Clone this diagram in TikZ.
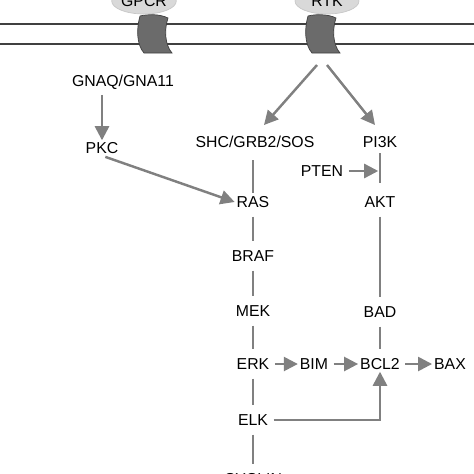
\documentclass[tikz,border=0pt]{standalone}
\usepackage{fontspec}
\setmainfont{Liberation Sans}
\usetikzlibrary{arrows.meta,shapes.geometric}
\tikzset{
  gene/.style={inner sep=1pt, font=\fontsize{9}{10}\selectfont},
  link/.style={draw=black!50, line width=1.4pt, shorten <=4pt, shorten >=4pt},
  act/.style={link, shorten <=2pt, shorten >=0pt, -{Triangle[length=8pt,width=8pt]}},
  membrane/.style={draw=black!75, line width=0.9pt},
  channel/.style={fill=black!58, draw=black!75, line width=0.4pt},
  receptor/.style={gene, ellipse, fill=black!15, draw=black!22, line width=0.4pt, minimum height=26*0.02cm, inner sep=0pt}
}
\begin{document}
\begin{tikzpicture}[x=0.02cm,y=-0.02cm]
      \useasboundingbox (0,0) rectangle (474,474);
      \draw[membrane] (0,24) -- (474,24);
      \draw[membrane] (0,44) -- (474,44);
      \draw[channel] (140,16) .. controls (136,30) and (137,45) .. (144,53) -- (172,53) .. controls (165,45) and (164,30) .. (168,18) .. controls (160,14) and (148,14) .. (140,16);
      \draw[channel] (308,16) .. controls (304,30) and (305,45) .. (312,53) -- (340,53) .. controls (333,45) and (332,30) .. (336,18) .. controls (328,14) and (316,14) .. (308,16);
      \node[receptor, minimum width=60*0.02cm] (gpcr) at (144,1) {GPCR};
      \node[receptor, minimum width=64*0.02cm] (rtk) at (327,1) {RTK};
      \node[gene] (gnaq) at (123,82) {GNAQ/GNA11};
      \node[gene] (pkc) at (102,148) {PKC};
      \node[gene] (shc) at (255,142) {SHC/GRB2/SOS};
      \node[gene] (ras) at (253,202) {RAS};
      \node[gene] (braf) at (253,256) {BRAF};
      \node[gene] (mek) at (253,311) {MEK};
      \node[gene] (erk) at (253,364) {ERK};
      \node[gene] (elk) at (253,420) {ELK};
      \node[gene] (cyclin) at (253,479) {CYCLIN};
      \node[gene] (pi3k) at (380,142) {PI3K};
      \node[gene] (pten) at (322,171) {PTEN};
      \node[gene] (akt) at (380,202) {AKT};
      \node[gene] (bad) at (380,312) {BAD};
      \node[gene] (bim) at (314,364) {BIM};
      \node[gene] (bcl2) at (380,364) {BCL2};
      \node[gene] (bax) at (450,364) {BAX};
      \coordinate (rtkl) at (317,65);
      \coordinate (rtkr) at (327,65);
      \coordinate (shctip) at (264,125);
      \coordinate (pi3ktip) at (375,125);
      \coordinate (bartop) at (380,153);
      \coordinate (bar) at (380,171);
      \coordinate (barbot) at (380,183);
      \draw[act, shorten <=0pt] (rtkl) -- (shctip);
      \draw[act, shorten <=0pt] (rtkr) -- (pi3ktip);
      \draw[act] (gnaq.south -| pkc) -- (pkc);
      \draw[act] (pkc.south) -- (ras.west);
      \draw[link, shorten <=6pt, shorten >=1pt] (shc.south -| ras) -- (ras);
      \draw[link] (ras) -- (braf);
      \draw[link] (braf) -- (mek);
      \draw[link] (mek) -- (erk);
      \draw[link] (erk) -- (elk);
      \draw[link] (elk) -- (cyclin);
      \draw[link, shorten <=0pt, shorten >=0pt] (bartop) -- (barbot);
      \draw[act, shorten >=1pt] (pten) -- (bar);
      \draw[link] (akt) -- (bad);
      \draw[link] (bad) -- (bcl2);
      \draw[act] (erk) -- (bim);
      \draw[act] (bim) -- (bcl2);
      \draw[act] (bcl2) -- (bax);
      \draw[act] (elk) -| (bcl2);
\end{tikzpicture}
\end{document}
